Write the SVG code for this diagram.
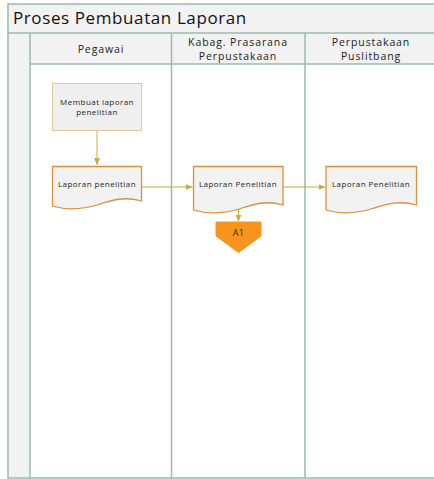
<svg xmlns="http://www.w3.org/2000/svg" width="434" height="479" viewBox="0 0 434 479">
<style>
.frame{stroke:#9fb8ae;stroke-width:1.5;fill:none}
.band{fill:#f1f2f1}
.hdr{font-family:"Open Sans","Noto Sans",sans-serif;font-size:10.5px;fill:#222;text-anchor:middle;letter-spacing:0.9px}
.title{font-family:"Open Sans","Noto Sans",sans-serif;font-size:17px;fill:#111;letter-spacing:0.6px}
.lbl{font-family:"Open Sans","Noto Sans",sans-serif;font-size:8px;fill:#222;text-anchor:middle;letter-spacing:0.45px}
.doc{fill:#f2f2f2;stroke:#d8923a;stroke-width:1.3}
.proc{fill:#efefef;stroke:#dccb9a;stroke-width:1}
.conn{stroke:#c9aa48;stroke-width:1;fill:none;marker-end:url(#ah)}
</style>
<defs>
<marker id="ah" markerWidth="8" markerHeight="8" refX="7" refY="4" orient="auto" markerUnits="userSpaceOnUse">
<path d="M0,1 L7,4 L0,7 Z" fill="#c9aa48"/>
</marker>
</defs>
<rect width="434" height="479" fill="#ffffff"/>
<g id="pool">
<rect class="band" x="8" y="4" width="430" height="29"/>
<rect class="band" x="8" y="33" width="22" height="445"/>
<rect class="band" x="30" y="33" width="408" height="31"/>
<path class="frame" d="M440,4 H8 V478 H440 M8,33 H440 M30,33 V478 M30,64 H440 M171.5,33 V478 M305,33 V478"/>
<text class="title" x="13" y="24">Proses Pembuatan Laporan</text>
<text class="hdr" x="101" y="53">Pegawai</text>
<text class="hdr" x="238" y="46">Kabag. Prasarana</text>
<text class="hdr" x="238" y="60">Perpustakaan</text>
<text class="hdr" x="371" y="46">Perpustakaan</text>
<text class="hdr" x="371" y="60">Puslitbang</text>
</g>
<g id="connectors">
<path class="conn" d="M97,131 V165"/>
<path class="conn" d="M141.5,187 H192.5"/>
<path class="conn" d="M283,187 H325.5"/>
<path class="conn" d="M238.5,206 V221.5"/>
</g>
<g id="n1">
<rect class="proc" x="52.5" y="83.5" width="89" height="47"/>
<text class="lbl" x="97" y="105">Membuat laporan</text>
<text class="lbl" x="97" y="115">penelitian</text>
</g>
<g id="n2">
<path class="doc" d="M52.5,166.5 H141.5 V201 C124,196 112,200 97,205 C80,210 66,210 52.5,206 Z"/>
<text class="lbl" x="97" y="187">Laporan penelitian</text>
</g>
<g id="n3">
<path class="doc" d="M193.5,166.5 H283 V205 C266,200 254,204 239,209 C222,214 207,214 193.5,210 Z"/>
<text class="lbl" x="238" y="187">Laporan Penelitian</text>
</g>
<g id="n4">
<path class="doc" d="M326,166.5 H416.5 V205 C399,200 387,204 371,209 C354,214 340,214 326,210 Z"/>
<text class="lbl" x="371" y="187">Laporan Penelitian</text>
</g>
<g id="n5">
<path d="M216,222 H261 V236 L238.5,252.5 L216,236 Z" fill="#f7941d" stroke="#f7941d" stroke-width="1"/>
<text class="lbl" x="238.5" y="236" style="fill:#2a2a2a;font-size:9px">A1</text>
</g>
</svg>
